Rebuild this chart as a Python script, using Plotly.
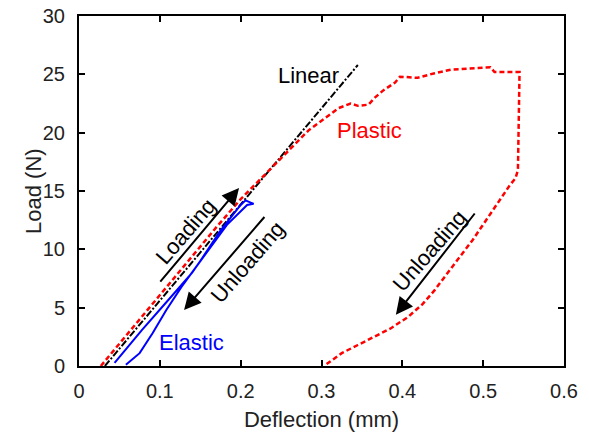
import plotly.graph_objects as go

# Linear reference line
linear_x = [0.032, 0.345]
linear_y = [0.0, 25.8]

# Plastic test (red dashed)
plastic_x = [0.027, 0.08, 0.13, 0.17, 0.2, 0.238, 0.284, 0.321, 0.336, 0.345, 0.358, 0.366,
             0.376, 0.391, 0.397, 0.419, 0.44, 0.46, 0.485, 0.509, 0.514, 0.545, 0.543,
             0.54, 0.533, 0.522, 0.509, 0.493, 0.487, 0.465, 0.44, 0.425, 0.407, 0.385,
             0.366, 0.345, 0.325, 0.305]
plastic_y = [0.0, 4.4, 8.6, 11.9, 14.3, 17.0, 20.2, 22.1, 22.5, 22.3, 22.4, 23.0,
             23.6, 24.3, 24.8, 24.7, 25.1, 25.4, 25.5, 25.6, 25.2, 25.2, 16.8,
             16.1, 15.5, 14.4, 13.1, 11.5, 10.8, 8.8, 6.5, 5.3, 4.2, 3.2,
             2.5, 1.8, 1.1, 0.1]

# Elastic test (blue)
elastic_x = [0.044, 0.078, 0.111, 0.14, 0.15, 0.175, 0.2, 0.206, 0.216, 0.208, 0.183, 0.148,
             0.145, 0.127, 0.108, 0.091, 0.075, 0.058]
elastic_y = [0.26, 3.1, 5.7, 8.0, 9.0, 11.6, 13.8, 14.2, 13.9, 13.8, 12.1, 8.8,
             8.5, 6.8, 4.8, 2.8, 1.1, 0.1]

x_ticks = [0, 0.1, 0.2, 0.3, 0.4, 0.5, 0.6]
x_labels = ["0", "0.1", "0.2", "0.3", "0.4", "0.5", "0.6"]
y_ticks = [0, 5, 10, 15, 20, 25, 30]

FONT = "Liberation Sans, Arial, sans-serif"

fig = go.Figure()
fig.add_trace(go.Scatter(x=linear_x, y=linear_y, mode="lines",
                         line=dict(color="black", width=2, dash="7px,2px,2px,2px")))
fig.add_trace(go.Scatter(x=plastic_x, y=plastic_y, mode="lines",
                         line=dict(color="#ff0000", width=2.5, dash="5px,3px")))
fig.add_trace(go.Scatter(x=elastic_x, y=elastic_y, mode="lines",
                         line=dict(color="#0000ff", width=2)))

texts = [
    ("Linear", 0.284, 24.9, "black", 0),
    ("Plastic", 0.359, 20.2, "#ff0000", 0),
    ("Elastic", 0.139, 2.05, "#0000ff", 0),
    ("Loading", 0.132, 11.5, "black", -49),
    ("Unloading", 0.208, 8.9, "black", -49),
    ("Unloading", 0.434, 9.9, "black", -49),
]
for t, x, y, c, ang in texts:
    fig.add_annotation(x=x, y=y, text=t, showarrow=False, textangle=ang,
                       font=dict(family=FONT, size=22, color=c))

arrows = [
    ((0.099, 7.1), (0.198, 15.25)),
    ((0.231, 12.9), (0.130, 4.8)),
    ((0.491, 13.2), (0.392, 4.4)),
]
for (tx, ty), (hx, hy) in arrows:
    fig.add_annotation(x=hx, y=hy, ax=tx, ay=ty, xref="x", yref="y", axref="x", ayref="y",
                       text="", showarrow=True, arrowhead=2, arrowsize=1.7, arrowwidth=2,
                       arrowcolor="black")

# y-axis title placed as a rotated annotation for exact spacing
fig.add_annotation(text="Load (N)", xref="paper", yref="paper", x=0, y=0.5,
                   xanchor="center", yanchor="middle", xshift=-46, textangle=-90,
                   showarrow=False, font=dict(family=FONT, size=22, color="#222"))

axis_common = dict(showline=True, linecolor="black", linewidth=2, mirror="ticks",
                   ticks="inside", ticklen=6, tickwidth=2, tickcolor="black",
                   showgrid=False, zeroline=False, automargin=False,
                   tickfont=dict(family=FONT, size=20, color="#222"))

fig.update_layout(
    width=589, height=435,
    margin=dict(l=79, r=25, t=16, b=69),
    paper_bgcolor="white", plot_bgcolor="white",
    showlegend=False,
    xaxis=dict(range=[0, 0.6], tickvals=x_ticks, ticktext=x_labels, ticklabelstandoff=6,
               title=dict(text="Deflection (mm)", font=dict(family=FONT, size=22, color="#222"), standoff=11),
               **axis_common),
    yaxis=dict(range=[0, 30], tickvals=y_ticks, ticklabelstandoff=8,
               **axis_common),
)

fig.write_html("out.html", config={"displayModeBar": False},
               post_script="document.body.style.margin='0';")
